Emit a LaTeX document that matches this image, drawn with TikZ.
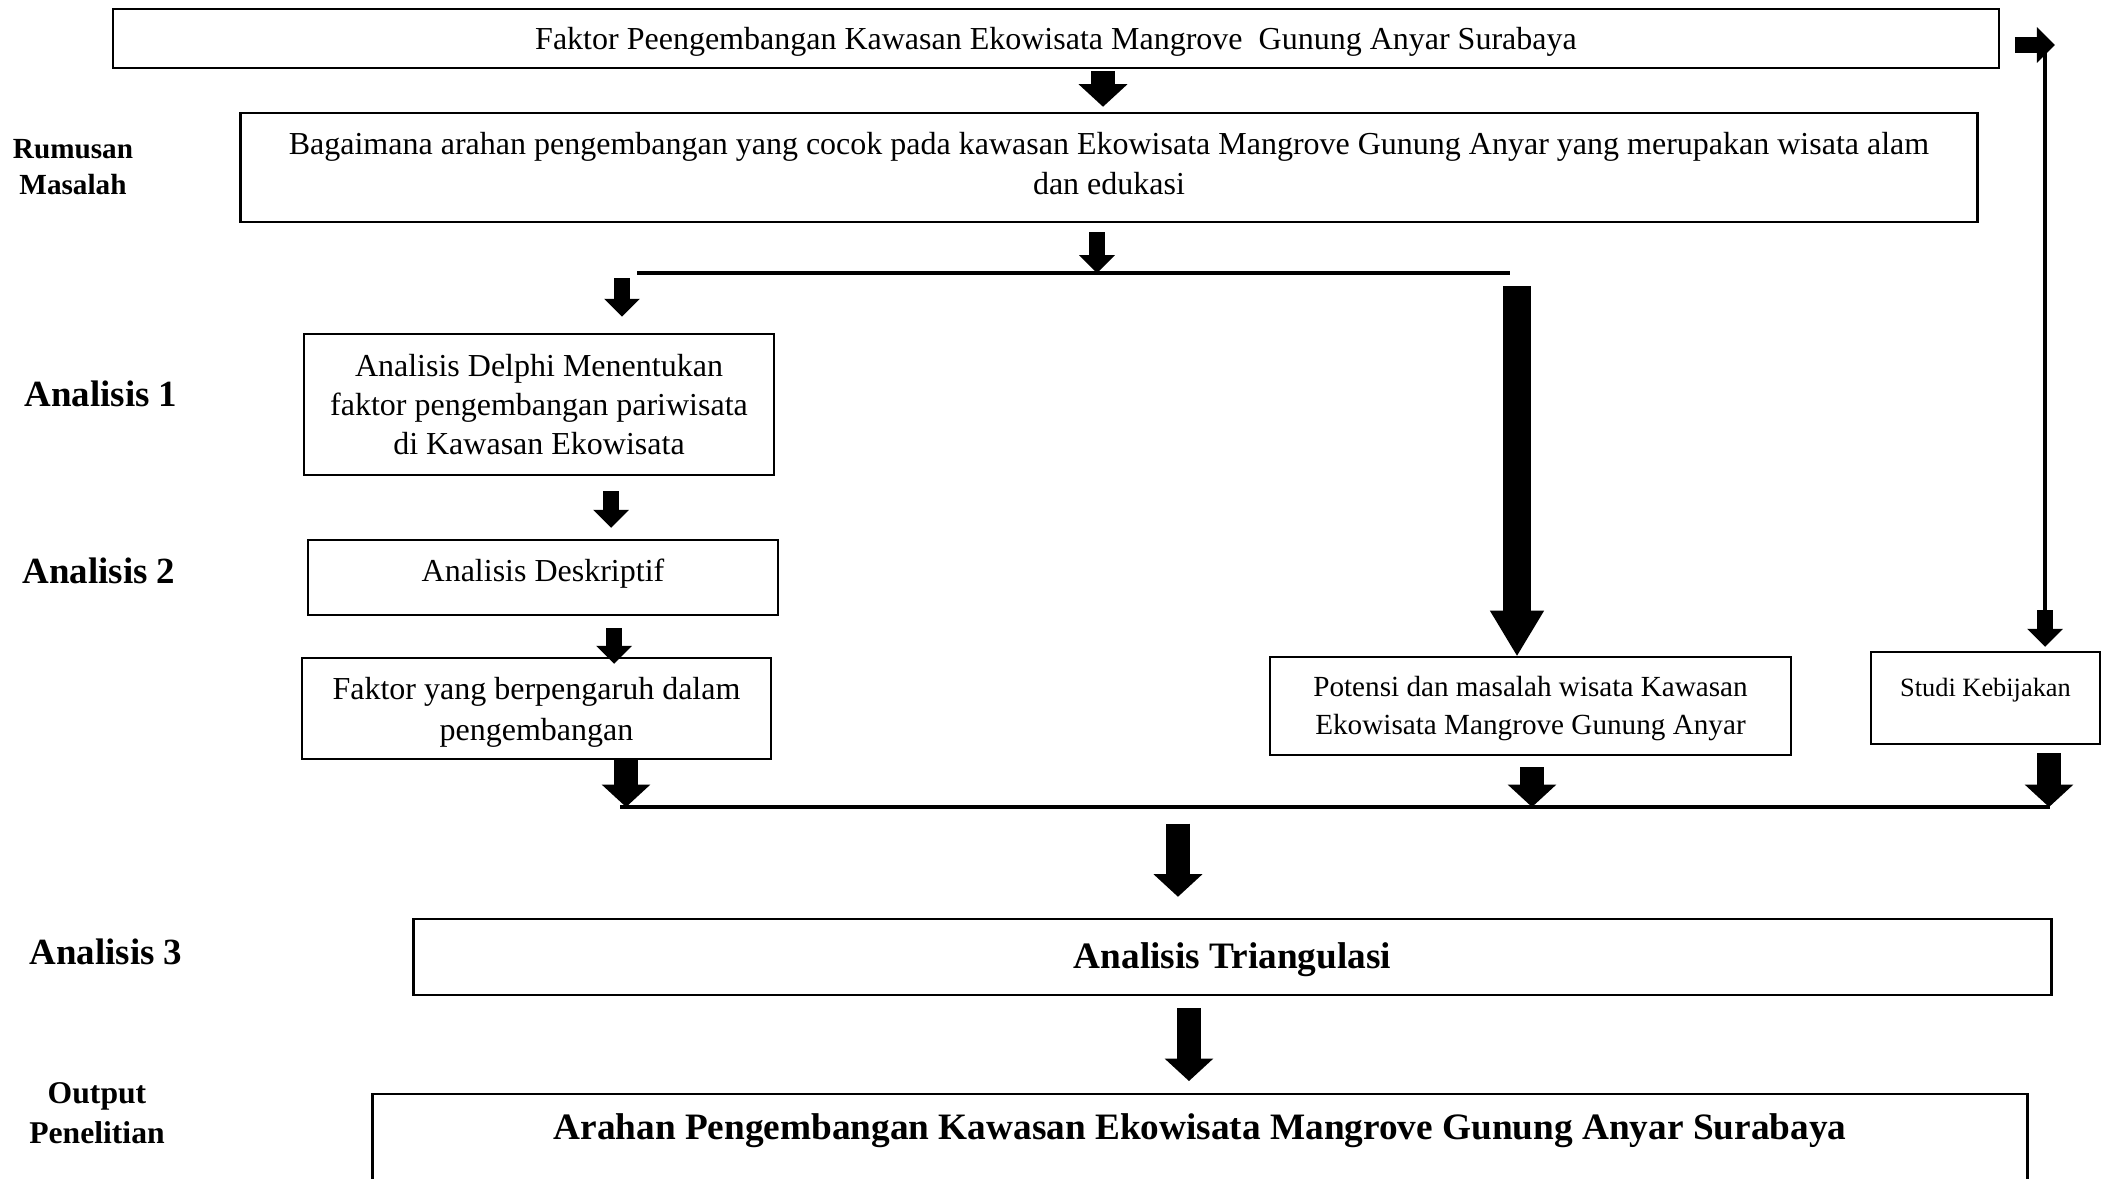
\documentclass[tikz,border=0pt]{standalone}
\usepackage{fontspec}
\setmainfont{Liberation Serif}
\usetikzlibrary{
    calc,
    arrows.meta
}
\tikzset{
  box/.style={draw,line width=0.7pt,align=center,inner sep=0pt,
    font=\fontsize{9.1pt}{11.2pt}\selectfont},
  sidelabel/.style={align=center,font=\bfseries\fontsize{10.5pt}{12pt}\selectfont},
  flowline/.style={line width=1.3pt},
  smallarrow/.style={line width=4.8pt,-{Triangle[length=5.1pt,width=10.2pt,line width=0pt]}},
  midarrow/.style={line width=6.8pt,-{Triangle[length=6.4pt,width=13.9pt,line width=0pt]}},
  bigarrow/.style={line width=7.7pt,-{Triangle[length=12.8pt,width=15.4pt,line width=0pt]}}
}

\begin{document}
\begin{tikzpicture}[x=0.01cm,y=-0.01cm]
\useasboundingbox (0,0) rectangle (2102,1178);
\clip (0,0) rectangle (2102,1178);

\node[box,minimum width=18.85cm,minimum height=0.59cm,text depth=0.3pt] (faktortop) at (1056,38.5)
  {Faktor Peengembangan Kawasan Ekowisata Mangrove~ Gunung Anyar Surabaya};
\node[box,minimum width=17.36cm,minimum height=1.09cm,text depth=2.4pt] (rumusan) at (1109,167.5)
  {Bagaimana arahan pengembangan yang cocok pada kawasan Ekowisata Mangrove Gunung Anyar yang merupakan wisata alam\\dan edukasi};
\node[box,minimum width=4.70cm,minimum height=1.41cm] (delphi) at (539,404.5)
  {Analisis Delphi Menentukan\\faktor pengembangan pariwisata\\di Kawasan Ekowisata};
\node[box,minimum width=4.70cm,minimum height=0.75cm,text height=6.2pt,text depth=4pt] (deskriptif) at (543,577.5)
  {Analisis Deskriptif};
\node[box,minimum width=4.69cm,minimum height=1.01cm,text depth=0pt,font=\fontsize{9.1pt}{11.7pt}\selectfont] (faktor) at (536.5,708.5)
  {Faktor yang berpengaruh dalam\\pengembangan};
\node[box,minimum width=5.21cm,minimum height=0.98cm,text depth=0.3pt,font=\fontsize{8.3pt}{10.8pt}\selectfont] (potensi) at (1530.5,706)
  {Potensi dan masalah wisata Kawasan\\Ekowisata Mangrove Gunung Anyar};
\node[box,minimum width=2.29cm,minimum height=0.92cm,text height=5.1pt,text depth=5.7pt,font=\fontsize{7.5pt}{9pt}\selectfont] (studi) at (1985.5,698)
  {Studi Kebijakan};
\node[box,minimum width=16.37cm,minimum height=0.76cm,text depth=0.6pt,font=\bfseries\fontsize{10.6pt}{12pt}\selectfont] (triangulasi) at (1232.5,957)
  {Analisis Triangulasi};
\node[box,anchor=north,minimum width=16.54cm,text height=12.8pt,text depth=17.6pt,font=\bfseries\fontsize{10.6pt}{12pt}\selectfont] (arahan) at (1200,1093)
  {Arahan Pengembangan Kawasan Ekowisata Mangrove Gunung Anyar Surabaya};

\node[sidelabel,font=\bfseries\fontsize{8.3pt}{10.2pt}\selectfont] (lblrumusan) at (73,167) {Rumusan\\Masalah};
\node[sidelabel] (lblsatu) at (101,394) {Analisis 1};
\node[sidelabel] (lbldua) at (99,571) {Analisis 2};
\node[sidelabel] (lbltiga) at (106,952) {Analisis 3};
\node[sidelabel,font=\bfseries\fontsize{9pt}{11.4pt}\selectfont] (lbloutput) at (97,1113) {Output\\Penelitian};

\coordinate (splitL) at (637,273);
\coordinate (splitR) at (1510,273);
\coordinate (splitA) at (622,278);
\coordinate (splitB) at (1517,286);
\coordinate (mergeL) at (620,807);
\coordinate (mergeR) at (2050,807);
\coordinate (bendtop) at (2045,50);
\coordinate (benddown) at (2045,610);

\draw[midarrow] ([xshift=0.47cm,yshift=-0.02cm]faktortop.south) coordinate (p1) -- ([yshift=0.05cm]p1 |- rumusan.north);
\draw[smallarrow] ([xshift=-0.12cm,yshift=-0.09cm]rumusan.south) coordinate (p2) -- (p2 |- splitL);
\draw[flowline] (splitL) -- (splitR);
\draw[smallarrow] (splitA) -- ([yshift=0.16cm]splitA |- delphi.north);
\draw[bigarrow] (splitB) -- (splitB |- potensi.north);
\draw[smallarrow] ([xshift=0.72cm,yshift=-0.15cm]delphi.south) coordinate (p3) -- ([yshift=0.11cm]p3 |- deskriptif.north);
\draw[smallarrow] ([xshift=0.71cm,yshift=-0.12cm]deskriptif.south) coordinate (p4) -- ([yshift=-0.07cm]p4 |- faktor.north);
\draw[midarrow] ([xshift=0.895cm]faktor.south) coordinate (p5) -- (p5 |- mergeL);
\draw[midarrow] ([xshift=0.015cm,yshift=-0.11cm]potensi.south) coordinate (p6) -- (p6 |- mergeL);
\draw[midarrow] ([xshift=0.635cm,yshift=-0.08cm]studi.south) coordinate (p7) -- (p7 |- mergeL);
\draw[flowline] (mergeL) -- (mergeR);
\draw[midarrow] ([xshift=-0.545cm,yshift=0.94cm]triangulasi.north) coordinate (p8) -- ([yshift=0.21cm]p8 |- triangulasi.north);
\draw[midarrow] ([xshift=-0.435cm,yshift=-0.12cm]triangulasi.south) coordinate (p9) -- ([yshift=0.12cm]p9 |- arahan.north);
\draw[smallarrow] ([xshift=0.145cm,yshift=-0.065cm]faktortop.east) -- ++(40,0);
\draw[flowline] (bendtop) -- (benddown);
\draw[smallarrow] (benddown) -- ([yshift=0.04cm]benddown |- studi.north);
\end{tikzpicture}
\end{document}
